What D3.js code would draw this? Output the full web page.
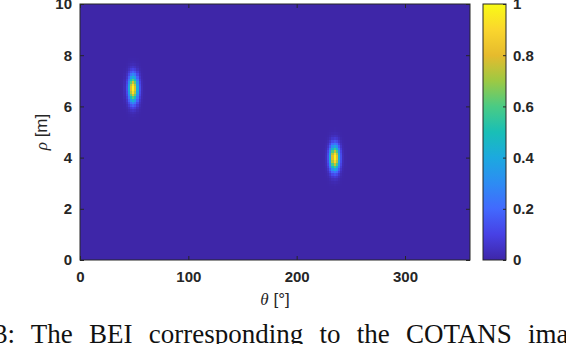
<!DOCTYPE html>
<html>
<head>
<meta charset="utf-8">
<script src="https://cdn.jsdelivr.net/npm/d3@7"></script>
<style>
  body { margin: 0; background: #fff; }
  svg text { font-family: "Liberation Sans", Arial, sans-serif; }
</style>
</head>
<body>
<div id="chart"></div>
<script>
// peaks (theta in deg, rho in m)
var peakTheta = [49, 235];
var peakRho = [6.7, 4.0];
var peakAmp = [1.0, 1.0];
var spreadTheta = [3.0, 3.0];
var spreadRho = [0.35, 0.33];

var xTicks = [0, 100, 200, 300];
var yTicks = [0, 2, 4, 6, 8, 10];
var cTicks = [0, 0.2, 0.4, 0.6, 0.8, 1];

// parula
var parulaStops = ["#3e26a8", "#4741e5", "#4269fe", "#2d8cf3", "#1ca9df",
    "#19bfb6", "#4acb84", "#9dc943", "#e6bb2d", "#fad62d", "#f9fb15"];

var width = 566, height = 344;
var margin = {top: 4, left: 80, right: 96, bottom: 84};
var plotW = 470 - 80, plotH = 260 - 4;

var svg = d3.select("#chart").append("svg")
    .attr("width", width)
    .attr("height", height);

var x = d3.scaleLinear().domain([0, 360]).range([0, plotW]);
var y = d3.scaleLinear().domain([0, 10]).range([plotH, 0]);
var color = d3.scaleLinear()
    .domain(d3.range(parulaStops.length).map(function(i){ return i/(parulaStops.length-1); }))
    .range(parulaStops)
    .interpolate(d3.interpolateRgb)
    .clamp(true);

// grid of beam energy
var dTheta = 2, dRho = 0.1;
var cells = [];
for(var t = 0; t < 360; t += dTheta){
    for(var r = 0; r < 10 - 1e-9; r += dRho){
        var tc = t + dTheta/2, rc = r + dRho/2;
        var v = 0;
        for(var k = 0; k < peakTheta.length; k++){
            var a = (tc - peakTheta[k]) / spreadTheta[k];
            var b = (rc - peakRho[k]) / spreadRho[k];
            v = Math.max(v, peakAmp[k] * Math.exp(-0.5*(a*a + b*b)));
        }
        cells.push({t: t, r: r, v: v});
    }
}

var g = svg.append("g")
    .attr("transform", "translate(" + margin.left + "," + margin.top + ")");

g.append("g").selectAll("rect")
    .data(cells)
    .enter()
    .append("rect")
    .attr("x", function(d){ return x(d.t); })
    .attr("y", function(d){ return y(d.r + dRho); })
    .attr("width", x(dTheta) - x(0) + 0.3)
    .attr("height", y(0) - y(dRho) + 0.3)
    .attr("fill", function(d){ return color(d.v); })
    .attr("shape-rendering", "crispEdges");

// axes, MATLAB style: inward ticks on all sides
function styleAxis(sel){
    sel.select(".domain").remove();
    sel.selectAll("line").attr("stroke", "#262626");
    sel.selectAll("text")
        .attr("fill", "#262626")
        .style("font-size", "15px")
        .style("font-weight", "bold");
}

g.append("g")
    .attr("transform", "translate(0," + plotH + ")")
    .call(d3.axisBottom(x).tickValues(xTicks).tickSize(-4).tickPadding(11))
    .call(styleAxis);
g.append("g")
    .call(d3.axisTop(x).tickValues(xTicks).tickSize(-4).tickFormat(""))
    .call(styleAxis);
g.append("g")
    .call(d3.axisLeft(y).tickValues(yTicks).tickSize(-4).tickPadding(8))
    .call(styleAxis);
g.append("g")
    .attr("transform", "translate(" + plotW + ",0)")
    .call(d3.axisRight(y).tickValues(yTicks).tickSize(-4).tickFormat(""))
    .call(styleAxis);

g.append("rect")
    .attr("width", plotW).attr("height", plotH)
    .attr("fill", "none").attr("stroke", "#262626").attr("stroke-width", 1);

// axis labels
var xl = svg.append("text")
    .attr("x", 275).attr("y", 305)
    .attr("text-anchor", "middle")
    .style("font-size", "17px")
    .attr("fill", "#262626");
xl.append("tspan").text("θ").style("font-style", "italic").style("font-family", "Liberation Serif, serif");
xl.append("tspan").text(" [°]");

var yl = svg.append("text")
    .attr("transform", "translate(47,132) rotate(-90)")
    .attr("text-anchor", "middle")
    .style("font-size", "17px")
    .attr("fill", "#262626");
yl.append("tspan").text("ρ").style("font-style", "italic").style("font-family", "Liberation Serif, serif");
yl.append("tspan").text(" [m]");

// colorbar
var cbX = 483, cbW = 23;
var cy = d3.scaleLinear().domain([0, 1]).range([260, 4]);
var defs = svg.append("defs");
var grad = defs.append("linearGradient")
    .attr("id", "parula").attr("x1", 0).attr("y1", 1).attr("x2", 0).attr("y2", 0);
parulaStops.forEach(function(c, i){
    grad.append("stop").attr("offset", i/(parulaStops.length-1)).attr("stop-color", c);
});
svg.append("rect")
    .attr("x", cbX).attr("y", cy(1))
    .attr("width", cbW).attr("height", cy(0) - cy(1))
    .attr("fill", "url(#parula)")
    .attr("stroke", "#262626").attr("stroke-width", 1);
svg.append("g")
    .attr("transform", "translate(" + (cbX + cbW) + ",0)")
    .call(d3.axisRight(cy).tickValues(cTicks).tickSize(-3).tickPadding(7)
        .tickFormat(function(d){ return d === 0 || d === 1 ? d : d3.format(".1f")(d); }))
    .call(styleAxis);

// caption (cut off at the bottom in the source)
svg.append("text")
    .attr("x", -6).attr("y", 343)
    .style("font-family", "Liberation Serif, 'Times New Roman', serif")
    .style("font-size", "27px")
    .style("word-spacing", "9.5px")
    .attr("fill", "#111")
    .text("3: The BEI corresponding to the COTANS ima");
</script>
</body>
</html>
